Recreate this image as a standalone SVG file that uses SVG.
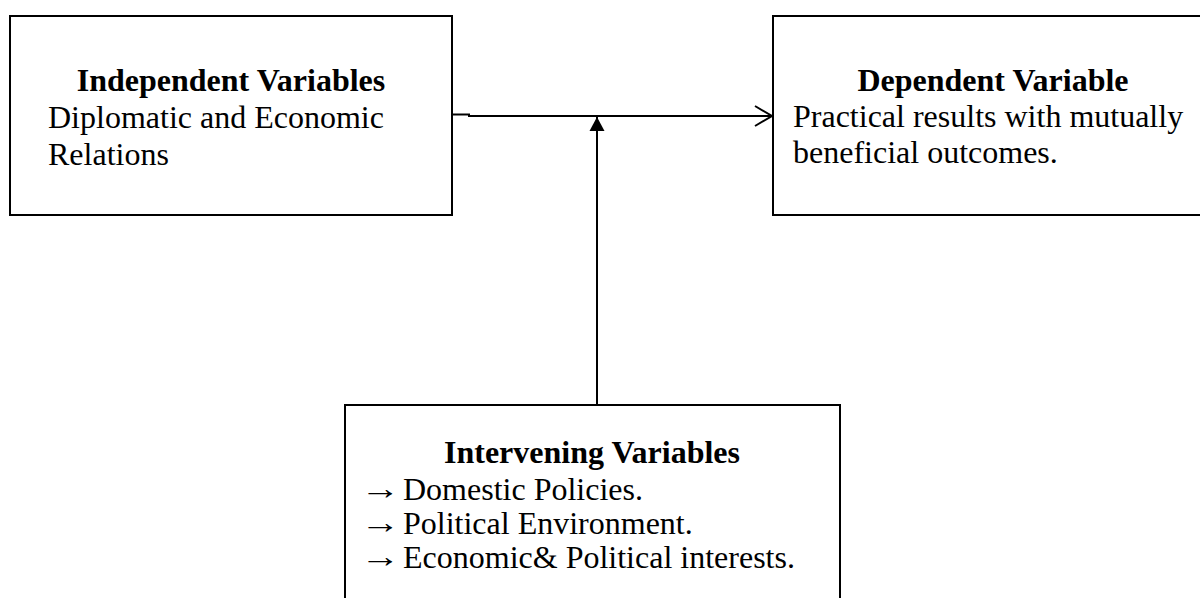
<svg xmlns="http://www.w3.org/2000/svg" width="1200" height="598" viewBox="0 0 1200 598">
<style>
.box{fill:#fff;stroke:#000;stroke-width:2}
.t{font-family:"Liberation Serif","Times New Roman",serif;font-size:32px;fill:#000}
.b{font-weight:bold}
.ln{stroke:#000;stroke-width:2;fill:none}
</style>
<defs>
<marker id="open" markerWidth="20" markerHeight="24" refX="18" refY="11" orient="auto" markerUnits="userSpaceOnUse">
<path d="M1,1 L18,11 L1,21" fill="none" stroke="#000" stroke-width="2"/>
</marker>
<marker id="solid" markerWidth="16" markerHeight="16" refX="14" refY="8" orient="auto" markerUnits="userSpaceOnUse">
<path d="M0,0.5 L14,8 L0,15.5 Z" fill="#000"/>
</marker>
</defs>
<g id="independent">
<rect class="box" x="10" y="16" width="442" height="199"/>
<text class="t b" x="231" y="91" text-anchor="middle">Independent Variables</text>
<text class="t" x="48" y="128">Diplomatic and Economic</text>
<text class="t" x="48" y="165">Relations</text>
</g>
<g id="dependent">
<rect class="box" x="773" y="16" width="440" height="199"/>
<text class="t b" x="993" y="91" text-anchor="middle">Dependent Variable</text>
<text class="t" x="793" y="127">Practical results with mutually</text>
<text class="t" x="793" y="163">beneficial outcomes.</text>
</g>
<g id="intervening">
<rect class="box" x="345" y="405" width="495" height="200"/>
<text class="t b" x="592" y="463" text-anchor="middle">Intervening Variables</text>
<text class="t" x="360" y="499" textLength="40" lengthAdjust="spacingAndGlyphs">→</text><text class="t" x="403" y="500">Domestic Policies.</text>
<text class="t" x="360" y="533" textLength="40" lengthAdjust="spacingAndGlyphs">→</text><text class="t" x="403" y="534">Political Environment.</text>
<text class="t" x="360" y="567" textLength="40" lengthAdjust="spacingAndGlyphs">→</text><text class="t" x="403" y="568">Economic&amp; Political interests.</text>
</g>
<g id="connectors">
<line class="ln" x1="452" y1="114.5" x2="470" y2="114.5"/>
<line class="ln" x1="468" y1="116" x2="772" y2="116" marker-end="url(#open)"/>
<line class="ln" x1="597" y1="405" x2="597" y2="117" marker-end="url(#solid)"/>
</g>
</svg>
